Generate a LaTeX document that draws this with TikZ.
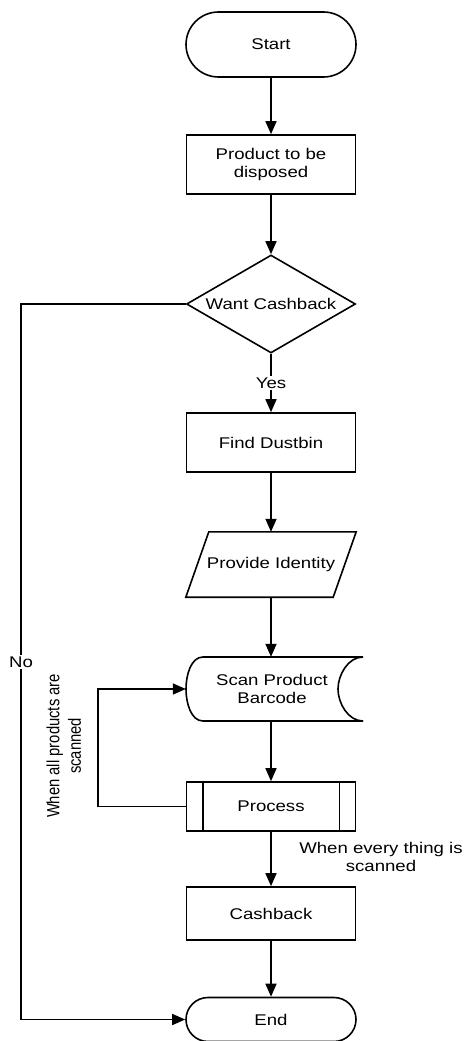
\documentclass[tikz,border=0pt]{standalone}
\usepackage{fontspec}
\setmainfont[FakeStretch=1.2]{Liberation Sans}
\newfontfamily\plainsans{Liberation Sans}
\usetikzlibrary{shapes.geometric,shapes.misc,arrows.meta}
\begin{document}
\begin{tikzpicture}[x=1pt,y=-1pt,
  every node/.style={font=\fontsize{15.5}{17.5}\selectfont, inner sep=0pt, align=center},
  lw/.style={line width=1.6pt},
  box/.style={draw, lw, minimum width=169pt},
  term/.style={draw, lw, rounded rectangle, minimum width=170pt},
  conn/.style={lw, -{Triangle[length=13pt,width=11pt]}},
  lbl/.style={fill=white, inner sep=1.5pt}]
\useasboundingbox (0,0) rectangle (464,1041);
% nodes
\node[term, minimum height=65pt] (start) at (271,44.5) {Start};
\node[box, minimum height=59pt] (prod) at (271,164.5) {Product to be\\disposed};
\node[draw, lw, diamond, aspect=1.72, minimum width=169pt, minimum height=98pt] (want) at (271,304) {Want Cashback};
\node[box, minimum height=59pt] (find) at (271,442.5) {Find Dustbin};
\node[minimum width=170pt, minimum height=65pt] (pid) at (271,564.5) {Provide Identity};
\draw[lw] (pid.south west) -- ([xshift=23pt]pid.north west) -- (pid.north east) -- ([xshift=-23pt]pid.south east) -- cycle;
\node[minimum width=172pt, minimum height=64pt] (scan) at (272,689) {Scan Product\\Barcode};
\draw[lw] (203,657) .. controls (191,657) and (186,675) .. (186,689) .. controls (186,703) and (191,721) .. (203,721) -- (363,721);
\draw[lw] (203,657) -- (363,657) .. controls (348,657) and (338,675) .. (338,689) .. controls (338,703) and (348,721) .. (363,721);
\node[box, minimum height=49pt] (proc) at (271,806.5) {Process};
\draw[lw] ([xshift=17pt]proc.north west) -- ([xshift=17pt]proc.south west);
\draw[lw] ([xshift=-17pt]proc.north east) -- ([xshift=-17pt]proc.south east);
\node[box, minimum height=53pt] (cash) at (271,913.5) {Cashback};
\node[term, minimum height=44pt] (end) at (271,1019.5) {End};
% labels
\node (every) at (381,857) {When every thing is\\scanned};
\node[rotate=90] (allscan) at (66,746) {\plainsans\fontsize{14.8}{17}\selectfont\scalebox{1}[1.2]{\begin{tabular}{@{}c@{}}When all products are\\[1pt]scanned\end{tabular}}};
% connectors
\draw[conn] (start) -- (prod);
\draw[conn] (prod) -- (want);
\draw[conn] (want) -- node[lbl] (yes) {Yes} (find);
\draw[conn] (find) -- (pid);
\draw[conn] (pid.south) -- (pid.south |- scan.north);
\draw[conn] (pid.south |- scan.south) -- (proc);
\draw[conn] (proc) -- (cash);
\draw[conn] (cash) -- (end);
\coordinate (loopc) at (98,806.5);
\draw[conn] (proc.west) -- (loopc) |- (scan.west);
\coordinate (noa) at (21,304);
\coordinate (nob) at (21,1019.5);
\draw[conn] (want.west) -- (noa) -- node[lbl, pos=0.5] (no) {No} (nob) -- (end.west);
\end{tikzpicture}
\end{document}
